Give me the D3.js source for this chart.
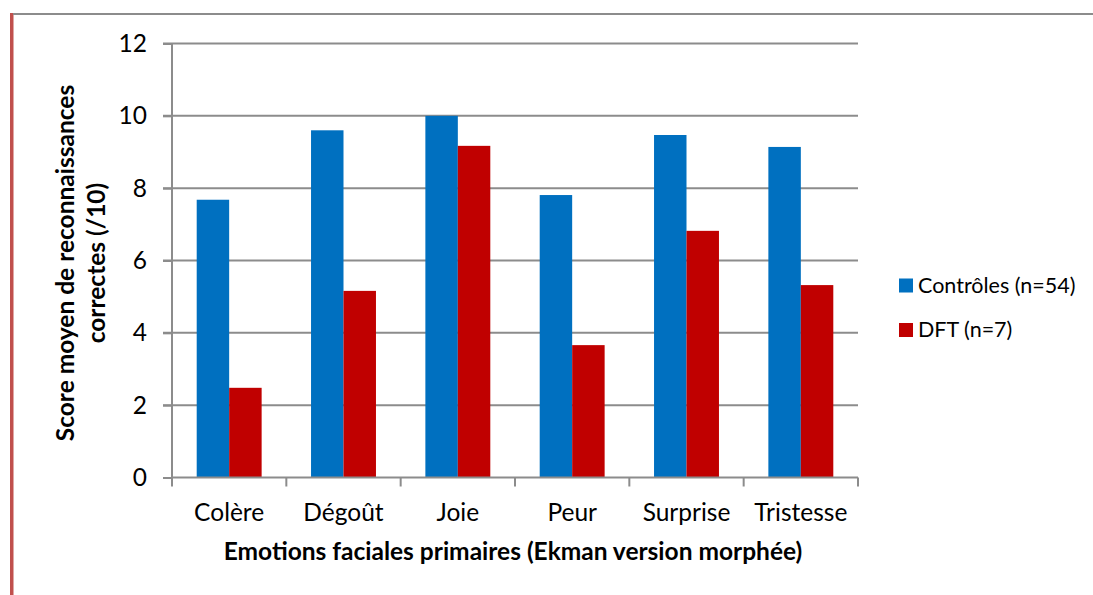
<!DOCTYPE html>
<html>
<head>
<meta charset="utf-8">
<script src="https://cdn.jsdelivr.net/npm/d3@7"></script>
<style>
  body { margin: 0; background: #fff; }
  svg { display: block; font-family: Lato, "Open Sans", sans-serif; }
</style>
</head>
<body>
<svg id="chart" width="1093" height="595"></svg>
<script>
const categories = ["Colère", "Dégoût", "Joie", "Peur", "Surprise", "Tristesse"];
const controles = [7.68, 9.6, 10.0, 7.81, 9.47, 9.14];
const dft = [2.48, 5.16, 9.17, 3.66, 6.82, 5.32];
const seriesNames = ["Contrôles (n=54)", "DFT (n=7)"];
const yTicks = [0, 2, 4, 6, 8, 10, 12];

const colors = ["#0070C0", "#C00000"];
const svg = d3.select("#chart");

// page decorations
svg.append("rect").attr("x", 10).attr("y", 13).attr("width", 3.5).attr("height", 582).attr("fill", "#C0504D");
svg.append("rect").attr("x", 13).attr("y", 13).attr("width", 1080).attr("height", 2).attr("fill", "#8c8c8c");

const plotL = 172, plotR = 858, plotT = 43.5, plotB = 477.5;
const fs = 24.5;

const x = d3.scaleBand().domain(categories).range([plotL, plotR]).paddingInner(0).paddingOuter(0);
const y = d3.scaleLinear().domain([0, 12]).range([plotB, plotT]);
const inner = d3.scaleBand().domain([0, 1]).range([24.7, x.bandwidth() - 24.7]);

// gridlines
svg.append("g")
  .selectAll("line")
  .data(yTicks.filter(d => d > 0))
  .enter()
  .append("line")
  .attr("x1", plotL - 9).attr("x2", plotR)
  .attr("y1", d => y(d)).attr("y2", d => y(d))
  .attr("stroke", "#8c8c8c").attr("stroke-width", 2);

// bars
const groups = svg.append("g")
  .selectAll("g")
  .data(categories)
  .enter()
  .append("g")
  .attr("transform", d => `translate(${x(d)},0)`);

groups.selectAll("rect")
  .data((d, i) => [controles[i], dft[i]])
  .enter()
  .append("rect")
  .attr("x", (d, j) => inner(j))
  .attr("width", inner.bandwidth())
  .attr("y", d => y(d))
  .attr("height", d => y(0) - y(d))
  .attr("fill", (d, j) => colors[j]);

// y axis
const yAxis = svg.append("g")
  .attr("transform", `translate(${plotL},0)`)
  .call(d3.axisLeft(y).tickValues(yTicks).tickSize(9).tickPadding(16));
yAxis.select(".domain").attr("stroke", "#8c8c8c").attr("stroke-width", 2).attr("d", `M0,${plotT}V${plotB}`);
yAxis.selectAll(".tick line").attr("stroke", "#8c8c8c").attr("stroke-width", 2);
yAxis.selectAll("text").attr("font-size", fs).attr("fill", "#000").attr("font-family", "Lato, sans-serif");

// x axis
const xAxis = svg.append("g")
  .attr("transform", `translate(0,${plotB})`)
  .call(d3.axisBottom(x).tickSize(0).tickPadding(26));
xAxis.select(".domain").attr("stroke", "#8c8c8c").attr("stroke-width", 2).attr("d", `M${plotL},0H${plotR}`);
xAxis.selectAll("text").attr("font-size", fs).attr("fill", "#000").attr("font-family", "Lato, sans-serif");
xAxis.selectAll(".sep")
  .data(d3.range(categories.length + 1))
  .enter()
  .append("line")
  .attr("x1", i => plotL + i * x.step()).attr("x2", i => plotL + i * x.step())
  .attr("y1", 0).attr("y2", 9)
  .attr("stroke", "#8c8c8c").attr("stroke-width", 2);

// axis titles
svg.append("text")
  .attr("x", 513).attr("y", 560)
  .attr("text-anchor", "middle").attr("font-weight", "bold").attr("font-size", fs)
  .text("Emotions faciales primaires (Ekman version morphée)");

const yt = svg.append("text")
  .attr("transform", `translate(74,263) rotate(-90)`)
  .attr("text-anchor", "middle").attr("font-weight", "bold").attr("font-size", fs);
yt.append("tspan").attr("x", 0).attr("dy", 0).text("Score moyen de reconnaissances");
yt.append("tspan").attr("x", 0).attr("dy", 31).text("correctes (/10)");

// legend
const legend = svg.append("g").attr("transform", "translate(899,278.5)");
const items = legend.selectAll("g")
  .data(seriesNames)
  .enter()
  .append("g")
  .attr("transform", (d, i) => `translate(0,${i * 44.5})`);
items.append("rect").attr("width", 14).attr("height", 14).attr("fill", (d, i) => colors[i]);
items.append("text").attr("x", 19).attr("y", 14).attr("font-size", 21.5).text(d => d);
</script>
</body>
</html>
